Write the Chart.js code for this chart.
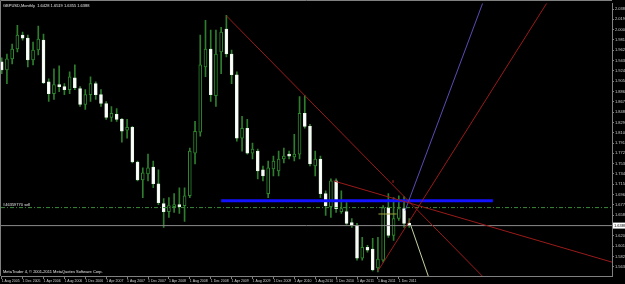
<!DOCTYPE html>
<html>
<head>
<meta charset="utf-8">
<script src="https://cdn.jsdelivr.net/npm/chart.js@4.4.1/dist/chart.umd.min.js"></script>
<style>
  html, body { margin: 0; padding: 0; background: #000; }
  canvas { display: block; }
</style>
</head>
<body>
<canvas id="chart" width="625" height="284"></canvas>
<script>
// monthly candles, one per month from Aug 2005
const opens  = [1.9406,1.9260,1.9461,1.9643,1.9899,1.9844,1.9442,1.9625,1.9808,1.9040,
                1.8821,1.8986,1.8949,1.8894,1.9114,1.8913,1.8620,1.8803,1.9004,1.8803,
                1.8639,1.8383,1.8438,1.8346,1.8145,1.8200,1.7561,1.7232,1.7341,1.7469,
                1.7159,1.6793,1.6647,1.6738,1.6775,1.6757,1.6939,1.7725,1.8109,1.9314,
                1.9643,1.8785,1.9589,2.0009,1.9552,1.9168,1.7999,1.8182,1.7725,1.7762,
                1.7414,1.6976,1.7433,1.7396,1.7615,1.7707,1.7652,1.7707,1.8456,1.8218,
                1.7487,1.7615,1.6976,1.6738,1.7213,1.6647,1.6647,1.6446,1.6391,1.5788,
                1.5989,1.5953,1.5606,1.5752,1.6720,1.6209,1.6519,1.6702,1.6428];
const highs  = [1.9479,1.9552,1.9735,2.0082,1.9954,1.9899,1.9771,2.0064,1.9917,1.9095,
                1.9278,1.9333,1.9004,1.9223,1.9351,1.8949,1.8894,1.9132,1.9040,1.8894,
                1.8675,1.8584,1.8547,1.8364,1.8346,1.8218,1.7579,1.7451,1.7707,1.7579,
                1.7414,1.6885,1.6903,1.6976,1.7086,1.7086,1.7816,1.8310,1.9899,2.0173,
                1.9990,1.9990,2.0045,2.0265,1.9625,1.9223,1.8401,1.8346,1.7908,1.7798,
                1.7487,1.7579,1.7670,1.7762,1.7816,1.7762,1.8072,1.8766,1.8785,1.8255,
                1.7762,1.7670,1.7031,1.7250,1.7250,1.7031,1.6812,1.6519,1.6428,1.6172,
                1.6026,1.6154,1.6172,1.6757,1.6976,1.6903,1.6939,1.6921,1.6519];
const lows   = [1.9187,1.9004,1.9369,1.9589,1.9808,1.9314,1.9351,1.9534,1.9004,1.8675,
                1.8712,1.8858,1.8803,1.8821,1.8894,1.8584,1.8529,1.8675,1.8712,1.8584,
                1.8346,1.8310,1.8310,1.7926,1.7999,1.7542,1.7213,1.6903,1.7213,1.7086,
                1.6775,1.6355,1.6537,1.6629,1.6611,1.6464,1.6903,1.7524,1.8036,1.9132,
                1.8675,1.8584,1.9187,1.9497,1.9004,1.7944,1.7762,1.7707,1.7615,1.7250,
                1.7213,1.6903,1.7305,1.7305,1.7542,1.7615,1.7579,1.7615,1.8182,1.7487,
                1.7305,1.6903,1.6574,1.6537,1.6629,1.6611,1.6410,1.6355,1.5752,1.5752,
                1.5898,1.5551,1.5533,1.5715,1.6172,1.6117,1.6483,1.6355,1.6355];
const closes = [1.9260,1.9461,1.9643,1.9899,1.9844,1.9442,1.9625,1.9826,1.9022,1.8821,
                1.8986,1.8949,1.8894,1.9132,1.8931,1.8620,1.8803,1.9004,1.8803,1.8639,
                1.8383,1.8456,1.8346,1.8127,1.8200,1.7561,1.7232,1.7360,1.7451,1.7159,
                1.6812,1.6647,1.6757,1.6775,1.6738,1.6939,1.7762,1.8127,1.9351,1.9643,
                1.8803,1.9552,1.9954,1.9552,1.9168,1.7999,1.8182,1.7725,1.7798,1.7396,
                1.7305,1.7451,1.7579,1.7615,1.7670,1.7670,1.7707,1.8456,1.8218,1.7524,
                1.7615,1.6976,1.6757,1.7213,1.6702,1.6702,1.6428,1.6391,1.5788,1.5989,
                1.5935,1.5569,1.5770,1.6720,1.6209,1.6519,1.6702,1.6428,1.6388];

// axis labels
const dateLabels = ['1 Aug 2005','1 Dec 2005','1 Apr 2006','1 Aug 2006','1 Dec 2006',
                    '1 Apr 2007','1 Aug 2007','1 Dec 2007','1 Apr 2008','1 Aug 2008',
                    '1 Dec 2008','1 Apr 2009','1 Aug 2009','1 Dec 2009','1 Apr 2010',
                    '1 Aug 2010','1 Dec 2010','1 Apr 2011','1 Aug 2011','1 Dec 2011'];
const labelEvery = 4;
const priceTicks = [1.5630,1.5820,1.6010,1.6200,1.6390,1.6580,1.6770,1.6960,1.7150,1.7340,
                    1.7530,1.7720,1.7910,1.8100,1.8290,1.8480,1.8670,1.8860,1.9050,1.9240,
                    1.9430,1.9620,1.9810,2.0000,2.0190,2.0380];

// levels and drawn objects
const bid = 1.6388;
const sellOrder = 1.6720;
const blueLevel = 1.6848;
const trendRed1 = [[43, 2.0255], [95, 1.5162]];
const trendRed2 = [[63.5, 1.7213], [117, 1.5709]];
const trendRed3 = [[72, 1.5551], [104.4, 2.0502]];
const trendPurple = [[77.2, 1.6665], [92.1, 2.0502]];
const trendPale = [[78.3, 1.6391], [82, 1.5356]];
const oliveLine = [[72.1, 1.6602], [75.6, 1.6602]];
const blueSpan = [42, 94];

const titleText = 'GBPUSD,Monthly  1.6428 1.6519 1.6355 1.6388';
const copyText = 'MetaTrader 4, \u00A9 2001-2011 MetaQuotes Software Corp.';
const orderText = '#46359770 sell';

const xMin = -0.134, xMax = 116.8;
const yMin = 1.5459, yMax = 2.0484;

const isBear = opens.map((o, i) => closes[i] < o);
const toPts = seg => seg.map(p => ({x: p[0], y: p[1]}));

function lineSet(points, color, width, dash) {
    return {
        type: 'line',
        data: points,
        borderColor: color,
        borderWidth: width,
        borderDash: dash || [],
        pointRadius: 0,
        tension: 0,
        order: 0
    };
}

const overlay = {
    id: 'overlay',
    beforeDraw(chart) {
        const ctx = chart.ctx;
        ctx.save();
        ctx.fillStyle = '#000';
        ctx.fillRect(0, 0, chart.width, chart.height);
        ctx.restore();
    },
    afterDraw(chart) {
        const {ctx, chartArea: a, scales: {x, y}} = chart;
        ctx.save();
        ctx.strokeStyle = '#808080';
        ctx.lineWidth = 1;
        ctx.beginPath();
        ctx.moveTo(0.5, a.bottom);
        ctx.lineTo(0.5, 0.5);
        ctx.lineTo(a.right, 0.5);
        ctx.stroke();

        ctx.font = '4px "Liberation Sans", Arial, sans-serif';
        ctx.fillStyle = '#e6e6e6';
        ctx.fillText(titleText, 3, 7);
        ctx.fillText(copyText, 3, 273);
        ctx.fillText(orderText, 3, y.getPixelForValue(sellOrder) - 2);

        ctx.fillStyle = '#c02828';
        ctx.fillText('8', x.getPixelForValue(74.9) - 1, y.getPixelForValue(1.7213) + 2);

        // bid price box on the axis
        const by = y.getPixelForValue(bid);
        ctx.fillStyle = '#ffffff';
        ctx.fillRect(a.right + 1, by - 3, 12, 6);
        ctx.fillStyle = '#000';
        ctx.fillText(bid.toFixed(4), a.right + 2, by + 1.5);
        ctx.restore();
    }
};

const config = {
    type: 'bar',
    data: {
        datasets: [
            lineSet(toPts(trendRed1), '#9a1a1a', 1),
            lineSet(toPts(trendRed2), '#9a1a1a', 1),
            lineSet(toPts(trendRed3), '#9a1a1a', 1),
            lineSet(toPts(trendPurple), '#5a4cb4', 1),
            lineSet(toPts(trendPale), '#c4d4a4', 1),
            lineSet(toPts(oliveLine), '#a0a040', 1),
            lineSet([{x: blueSpan[0], y: blueLevel}, {x: blueSpan[1], y: blueLevel}], '#1212ff', 3),
            lineSet([{x: xMin, y: sellOrder}, {x: xMax, y: sellOrder}], '#3a8a3a', 1, [4, 2, 1, 2]),
            lineSet([{x: xMin, y: bid}, {x: xMax, y: bid}], '#8a8a8a', 1),
            {
                type: 'bar',
                data: opens.map((o, i) => ({x: i, y: [o, closes[i]]})),
                backgroundColor: isBear.map(b => b ? '#ffffff' : '#000000'),
                borderColor: isBear.map(b => b ? '#e8f8e8' : '#2f8a2f'),
                borderWidth: 1,
                borderSkipped: false,
                barThickness: 3,
                minBarLength: 1,
                grouped: false,
                order: 2
            },
            {
                type: 'bar',
                data: highs.map((h, i) => ({x: i, y: [lows[i], h]})),
                backgroundColor: '#2e7e2e',
                barThickness: 1,
                grouped: false,
                order: 3
            }
        ]
    },
    options: {
        responsive: false,
        animation: false,
        events: [],
        layout: { padding: { left: 1, top: 1, right: 0, bottom: 0 } },
        plugins: { legend: { display: false }, tooltip: { enabled: false } },
        scales: {
            x: {
                type: 'linear',
                min: xMin,
                max: xMax,
                offset: false,
                afterBuildTicks: s => { s.ticks = dateLabels.map((_, k) => ({value: k * labelEvery})); },
                afterFit: s => { s.height = 8; },
                ticks: {
                    callback: v => dateLabels[Math.round(v / labelEvery)],
                    align: 'start',
                    color: '#cfcfcf',
                    font: { size: 3.5, family: 'Liberation Sans' },
                    maxRotation: 0,
                    autoSkip: false,
                    padding: 0
                },
                grid: { drawOnChartArea: false, color: '#808080', tickLength: 3, offset: false },
                border: { color: '#808080' }
            },
            y: {
                type: 'linear',
                position: 'right',
                min: yMin,
                max: yMax,
                afterBuildTicks: s => { s.ticks = priceTicks.map(v => ({value: v})); },
                afterFit: s => { s.width = 13; },
                ticks: {
                    callback: v => v.toFixed(4),
                    color: '#cfcfcf',
                    font: { size: 4, family: 'Liberation Sans' },
                    padding: 1
                },
                grid: { drawOnChartArea: false, color: '#808080', tickLength: 2 },
                border: { color: '#808080' }
            }
        }
    },
    plugins: [overlay]
};

window.myChart = new Chart(document.getElementById('chart'), config);
</script>
</body>
</html>
